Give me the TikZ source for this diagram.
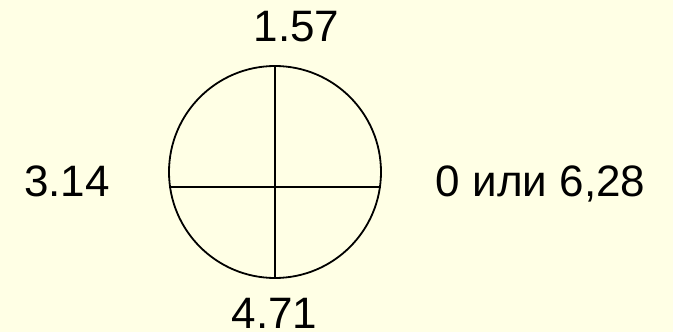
\documentclass[tikz,border=0pt]{standalone}
\usepackage{fontspec}
\setmainfont{Liberation Sans}
\usetikzlibrary{positioning}
\definecolor{paper}{HTML}{FFFFE5}

\begin{document}
\begin{tikzpicture}[x=1pt,y=-1pt,
  lbl/.style={anchor=base,inner sep=0pt,font=\fontsize{44}{50}\selectfont},
  every path/.style={line width=1.8pt}]
\fill[paper] (0,0) rectangle (673,332);
\useasboundingbox (0,0) rectangle (673,332);
\node[draw,circle,inner sep=0pt,minimum size=212pt](unit) at (275,172) {};
\draw (unit.north)--(unit.south);
\draw (unit.188.1)--(unit.-8.1);
\node[lbl](top) at (296.5,41.7){1.57};
\node[lbl](left) at (67,196){3.14};
\node[lbl](right) at (540.5,196.7){0 или 6,28};
\node[lbl](bottom) at (274.5,328.5){4.71};
\end{tikzpicture}
\end{document}
